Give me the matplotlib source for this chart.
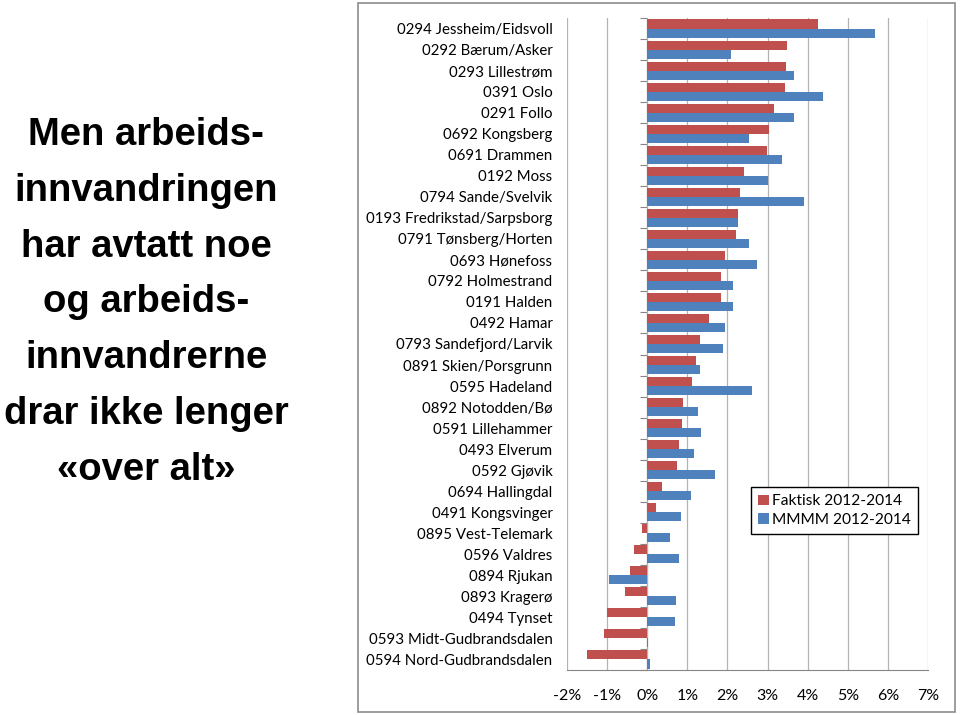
import matplotlib
matplotlib.use("Agg")
import matplotlib.pyplot as plt
from matplotlib.patches import Rectangle
import numpy as np

categories = [
    "0294 Jessheim/Eidsvoll", "0292 Bærum/Asker", "0293 Lillestrøm", "0391 Oslo",
    "0291 Follo", "0692 Kongsberg", "0691 Drammen", "0192 Moss", "0794 Sande/Svelvik",
    "0193 Fredrikstad/Sarpsborg", "0791 Tønsberg/Horten", "0693 Hønefoss",
    "0792 Holmestrand", "0191 Halden", "0492 Hamar", "0793 Sandefjord/Larvik",
    "0891 Skien/Porsgrunn", "0595 Hadeland", "0892 Notodden/Bø", "0591 Lillehammer",
    "0493 Elverum", "0592 Gjøvik", "0694 Hallingdal", "0491 Kongsvinger",
    "0895 Vest-Telemark", "0596 Valdres", "0894 Rjukan", "0893 Kragerø",
    "0494 Tynset", "0593 Midt-Gudbrandsdalen", "0594 Nord-Gudbrandsdalen",
]
faktisk = [4.25, 3.49, 3.45, 3.43, 3.15, 3.04, 2.99, 2.42, 2.32, 2.26, 2.22, 1.94,
           1.85, 1.85, 1.53, 1.31, 1.22, 1.11, 0.90, 0.87, 0.80, 0.74, 0.36, 0.22,
           -0.13, -0.33, -0.42, -0.55, -1.00, -1.08, -1.51]
mmmm = [5.68, 2.08, 3.67, 4.37, 3.65, 2.54, 3.37, 3.01, 3.91, 2.26, 2.54, 2.74,
        2.13, 2.15, 1.93, 1.89, 1.31, 2.60, 1.27, 1.35, 1.16, 1.69, 1.09, 0.83,
        0.56, 0.80, -0.95, 0.71, 0.69, 0.02, 0.07]
series_names = ["Faktisk 2012-2014", "MMMM 2012-2014"]
xticks = list(range(-2, 8))
xticklabels = [f"{v}%" for v in xticks]
title_lines = ["Men arbeids-", "innvandringen", "har avtatt noe", "og arbeids-",
               "innvandrerne", "drar ikke lenger", "«over alt»"]

RED = "#C0504D"
BLUE = "#4F81BD"

fig = plt.figure(figsize=(9.6, 7.15), dpi=100)
fig.patch.set_facecolor("white")

# outer chart border
fig.add_artist(Rectangle((358 / 960, 3 / 715), (955 - 358) / 960, (712 - 3) / 715,
                         transform=fig.transFigure, fill=False,
                         edgecolor="#8C8C8C", lw=1.2))

ax = fig.add_axes([567 / 960, 45 / 715, 361 / 960, 652 / 715])
n = len(categories)
y = np.arange(n)
h = 0.43
ax.barh(y - h / 2, faktisk, height=h, color=RED, label=series_names[0], zorder=3)
ax.barh(y + h / 2, mmmm, height=h, color=BLUE, label=series_names[1], zorder=3)

ax.set_xlim(-2, 7)
ax.set_ylim(n - 0.5, -0.5)
ax.set_xticks(xticks)
ax.set_xticklabels(xticklabels, family="Lato", fontsize=11.5)
ax.tick_params(axis="x", length=0, pad=14)
ax.set_yticks(y)
ax.set_yticklabels(categories, family="Lato", fontsize=10.8)
ax.tick_params(axis="y", length=0, pad=10.5)
ax.grid(axis="x", color="#B3B3B3", lw=0.9, zorder=0)
for s in ["top", "right", "left"]:
    ax.spines[s].set_visible(False)
ax.spines["bottom"].set_color("#868686")

# category axis at 0 with boundary ticks
sec = ax.secondary_yaxis(2 / 9)
sec.set_yticks(np.arange(n + 1) - 0.5)
sec.set_yticklabels([])
sec.tick_params(axis="y", length=5, color="#868686", direction="out")
sec.spines["left"].set_color("#868686")

leg = ax.legend(loc="upper left", bbox_to_anchor=(0.509, 0.28), frameon=True,
                fancybox=False, edgecolor="black", framealpha=1,
                prop={"family": "Lato", "size": 11.2}, handlelength=0.7,
                handleheight=0.7, handletextpad=0.2, borderpad=0.45,
                labelspacing=0.3, borderaxespad=0)
leg.get_frame().set_linewidth(1.0)

# left title
top_y = 135
spacing = 55.8
for i, line in enumerate(title_lines):
    fig.text(146 / 960, 1 - (top_y + i * spacing) / 715, line, ha="center",
             va="center", family="Liberation Sans", weight="bold", fontsize=27.5)

fig.savefig("out.png", dpi=100)
